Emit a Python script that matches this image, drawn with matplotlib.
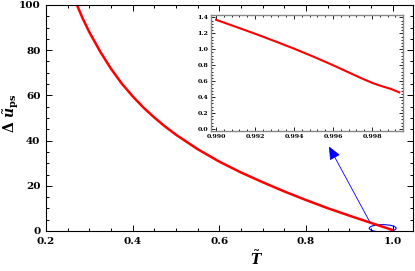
import matplotlib
matplotlib.use("Agg")
import matplotlib.pyplot as plt
from matplotlib.patches import Ellipse
from matplotlib.ticker import MultipleLocator

plt.rcParams['font.family'] = 'DejaVu Serif'
plt.rcParams['font.weight'] = 'bold'
plt.rcParams['mathtext.fontset'] = 'custom'
plt.rcParams['mathtext.rm'] = 'DejaVu Serif:bold'
plt.rcParams['mathtext.it'] = 'DejaVu Serif:italic:bold'
plt.rcParams['mathtext.bf'] = 'DejaVu Serif:bold'

# main curve
T_main = [0.2715, 0.285, 0.30, 0.325, 0.35, 0.375, 0.40, 0.425, 0.45, 0.475, 0.50, 0.55,
          0.60, 0.65, 0.70, 0.75, 0.80, 0.85, 0.90, 0.95, 0.9994]
dU_main = [100, 93.9, 88.0, 79.4, 71.8, 65.2, 59.6, 54.6, 50.2, 46.2, 42.6, 36.2,
           30.7, 25.9, 21.6, 17.5, 13.7, 10.1, 6.8, 3.6, 0.46]

# inset curve
T_ins = [0.9900, 0.9910, 0.9920, 0.9930, 0.9940, 0.9950, 0.9960, 0.9970, 0.9975, 0.9980,
         0.9983, 0.9986, 0.9990, 0.9994]
dU_ins = [1.37, 1.283, 1.195, 1.103, 1.008, 0.907, 0.800, 0.688, 0.632, 0.580,
          0.553, 0.530, 0.500, 0.460]

fig = plt.figure(figsize=(4.15, 2.71), dpi=100)
ax = fig.add_axes([46/415, 40/271, 367/415, 226/271])
ax.plot(T_main, dU_main, color='red', lw=1.8, solid_joinstyle='round')
ax.set_xlim(0.2, 1.047)
ax.set_ylim(0, 100)
ax.xaxis.set_major_locator(MultipleLocator(0.2))
ax.xaxis.set_minor_locator(MultipleLocator(0.05))
ax.yaxis.set_major_locator(MultipleLocator(20))
ax.yaxis.set_minor_locator(MultipleLocator(5))
ax.tick_params(which='both', direction='in', top=True, right=True, labelsize=7.5, pad=4, width=0.7)
ax.tick_params(which='major', length=4)
ax.tick_params(which='minor', length=2.5)
ax.set_xticks([0.2, 0.4, 0.6, 0.8, 1.0])
ax.set_xticklabels(['0.2', '0.4', '0.6', '0.8', '1.0'])
ax.set_xlabel(r'$\tilde{T}$', fontsize=10)
ax.set_ylabel(r'$\Delta\ \tilde{u}_{\mathrm{ps}}$', fontsize=10)
ax.xaxis.set_label_coords(0.573, -0.082)
ax.yaxis.set_label_coords(-0.068, 0.52)
for s in ax.spines.values():
    s.set_linewidth(0.8)

ax.add_patch(Ellipse((0.977, 1.2), 0.062, 3.2, fill=False, edgecolor='blue', lw=0.8))
ax.annotate('', xy=(0.850, 38.5), xytext=(0.951, 2.7),
            arrowprops=dict(arrowstyle='-|>,head_length=0.8,head_width=0.35', color='blue', lw=0.6))

ins = fig.add_axes([211/415, 140/271, 192/415, 116/271])
ins.plot(T_ins, dU_ins, color='red', lw=1.5, solid_joinstyle='round')
ins.set_xlim(0.98974, 0.99959)
ins.set_ylim(-0.025, 1.43)
ins.xaxis.set_minor_locator(MultipleLocator(0.0004))
ins.yaxis.set_major_locator(MultipleLocator(0.2))
ins.yaxis.set_minor_locator(MultipleLocator(0.04))
ins.tick_params(which='both', direction='in', top=True, right=True, labelsize=4.5, pad=2, width=0.6)
ins.tick_params(which='major', length=3)
ins.tick_params(which='minor', length=1.5)
ins.set_xticks([0.990, 0.992, 0.994, 0.996, 0.998])
ins.set_xticklabels(['0.990', '0.992', '0.994', '0.996', '0.998'])
ins.set_yticks([0.0, 0.2, 0.4, 0.6, 0.8, 1.0, 1.2, 1.4])
ins.set_yticklabels(['0.0', '0.2', '0.4', '0.6', '0.8', '1.0', '1.2', '1.4'])
for s in ins.spines.values():
    s.set_color('#888888')
    s.set_linewidth(1.0)

fig.savefig('out.png', dpi=100)
